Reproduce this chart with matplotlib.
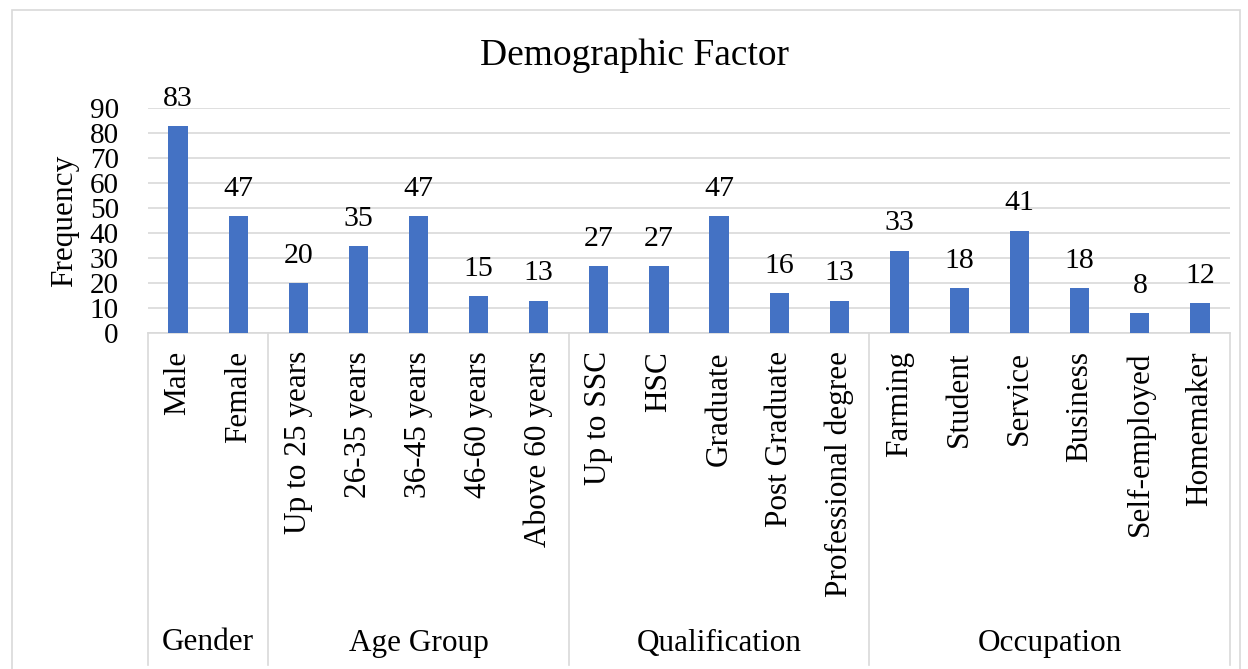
import numpy as np
import matplotlib
matplotlib.use("Agg")
import matplotlib.pyplot as plt
from matplotlib.patches import Rectangle
import matplotlib.transforms as mtransforms

plt.rcParams['font.family'] = ['Liberation Serif', 'DejaVu Serif']

groups = ["Gender", "Age Group", "Qualification", "Occupation"]
categories = [
    ["Male", "Female"],
    ["Up to 25 years", "26-35 years", "36-45 years", "46-60 years", "Above 60 years"],
    ["Up to SSC", "HSC", "Graduate", "Post Graduate", "Professional degree"],
    ["Farming", "Student", "Service", "Business", "Self-employed", "Homemaker"],
]
values = [
    [83, 47],
    [20, 35, 47, 15, 13],
    [27, 27, 47, 16, 13],
    [33, 18, 41, 18, 8, 12],
]

labels = [c for g in categories for c in g]
freq = [v for g in values for v in g]
x = np.arange(len(labels))

W, H = 1248, 669
fig = plt.figure(figsize=(W / 100, H / 100), dpi=100)

# chart border
fig.patches.append(Rectangle((12 / W, -0.05), (1240 - 12) / W, (H - 10) / H + 0.05,
                             transform=fig.transFigure, fill=False,
                             edgecolor='#d9d9d9', linewidth=1.2))

left, right, y0, y90 = 148, 1230, 333, 108
ax = fig.add_axes([left / W, (H - y0) / H, (right - left) / W, (y0 - y90) / H])

bar_color = '#4472C4'
ax.bar(x, freq, width=0.32, color=bar_color, zorder=3)
for xi, v in zip(x, freq):
    ax.text(xi, v + 8, str(v), ha='center', va='baseline', fontsize=21.5, zorder=4)

ax.set_xlim(-0.5, len(labels) - 0.5)
ax.set_ylim(0, 90)
ax.set_yticks(np.arange(0, 91, 10))
ax.tick_params(axis='y', labelsize=21, length=0, pad=21)
ax.yaxis.grid(True, color='#d9d9d9', linewidth=1.2, zorder=0)
ax.set_xticks([])
for s in ['top', 'right', 'left']:
    ax.spines[s].set_visible(False)
ax.spines['bottom'].set_color('#d9d9d9')
ax.spines['bottom'].set_linewidth(1.2)

ax.set_ylabel("Frequency", fontsize=22.5)
ax.yaxis.set_label_coords(-(148 - 79) / (right - left), 0.5)

fig.text(635 / W, (H - 56) / H, "Demographic Factor", ha='center', va='center', fontsize=27)

# multi-level category axis
trans = mtransforms.blended_transform_factory(ax.transData, ax.transAxes)
ax_h = y0 - y90
bottom_y = -(665 - y0) / ax_h
label_y = -(351 - y0) / ax_h
group_y = -(643 - y0) / ax_h

for xi, lab in zip(x, labels):
    ax.text(xi, label_y, lab, rotation=90, ha='center', va='top', fontsize=22.5,
            transform=trans)

bounds = [-0.5]
for g in categories:
    bounds.append(bounds[-1] + len(g))
for b in bounds:
    ax.plot([b, b], [0, bottom_y], color='#d9d9d9', linewidth=1.2,
            transform=trans, clip_on=False)
for i, g in enumerate(groups):
    ax.text((bounds[i] + bounds[i + 1]) / 2, group_y, g, ha='center', va='center',
            fontsize=22.5, transform=trans)

fig.savefig("out.png", dpi=100)
